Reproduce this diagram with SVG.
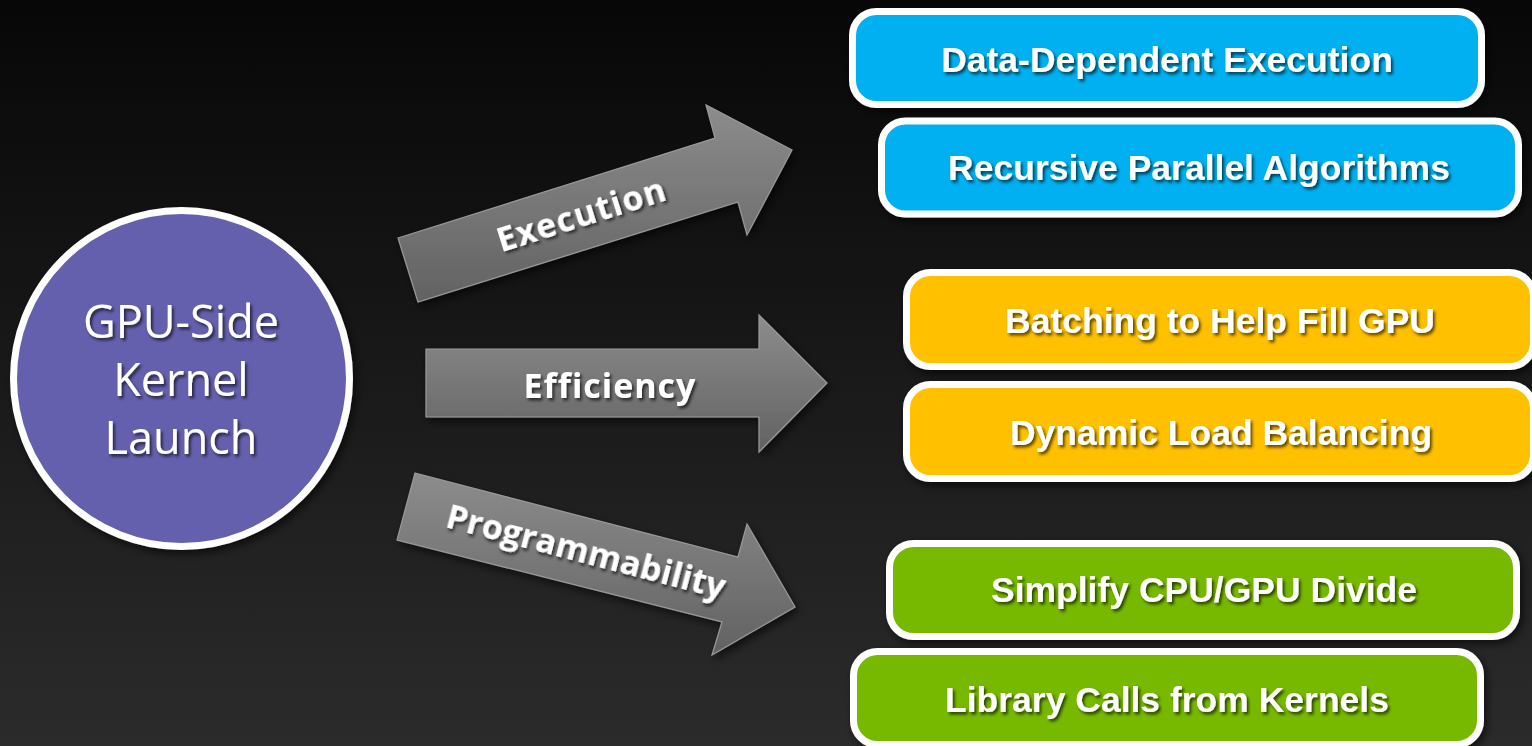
<svg xmlns="http://www.w3.org/2000/svg" width="1532" height="746" viewBox="0 0 1532 746">
  <defs>
    <linearGradient id="bg" x1="0" y1="0" x2="0" y2="1">
      <stop offset="0" stop-color="#070707"/>
      <stop offset="1" stop-color="#2b2b2b"/>
    </linearGradient>
    <linearGradient id="arrowFill" x1="0" y1="0" x2="0" y2="1">
      <stop offset="0" stop-color="#8c8c8c"/>
      <stop offset="1" stop-color="#626262"/>
    </linearGradient>
    <filter id="textShadow" x="-10%" y="-30%" width="120%" height="160%">
      <feDropShadow dx="2" dy="2.5" stdDeviation="1.4" flood-color="#000" flood-opacity="0.65"/>
    </filter>
    <filter id="shapeShadow" x="-10%" y="-20%" width="120%" height="150%">
      <feDropShadow dx="3" dy="4" stdDeviation="4" flood-color="#000" flood-opacity="0.6"/>
    </filter>
    <style>
      .box { stroke: #ffffff; stroke-width: 7; filter: url(#shapeShadow); }
      .blue { fill: #00b0f0; }
      .yellow { fill: #ffc000; }
      .green { fill: #76b900; }
      .boxText { font-family: "Liberation Sans", Arial, sans-serif; font-weight: bold; font-size: 35.5px; fill: #ffffff; text-anchor: middle; filter: url(#textShadow); }
      .arrow { fill: url(#arrowFill); stroke: #9a9a9a; stroke-width: 1.2; stroke-linejoin: miter; filter: url(#shapeShadow); }
      .arrowText { font-family: "Open Sans", "DejaVu Sans", sans-serif; font-weight: bold; font-size: 34px; fill: #ffffff; text-anchor: middle; letter-spacing: 1px; filter: url(#textShadow); }
      .hubText { font-family: "Open Sans", "DejaVu Sans", sans-serif; font-size: 45px; fill: #ffffff; text-anchor: middle; filter: url(#textShadow); }
    </style>
  </defs>

  <rect x="0" y="0" width="1532" height="746" fill="url(#bg)"/>

  <!-- central hub -->
  <g id="hub">
    <circle cx="181.5" cy="378.5" r="168" fill="#6560ae" stroke="#ffffff" stroke-width="7" filter="url(#shapeShadow)"/>
    <text class="hubText" x="181" y="338">GPU-Side</text>
    <text class="hubText" x="181" y="396">Kernel</text>
    <text class="hubText" x="181" y="454">Launch</text>
  </g>

  <!-- block arrows fanning out from the hub -->
  <g id="connectors">
    <g id="arrow-execution">
      <polygon class="arrow" points="398,238 715,138 706,105 792,150 747,235 738,202 418,302"/>
      <text class="arrowText" transform="translate(585,226) rotate(-17.5)" x="0" y="0">Execution</text>
    </g>
    <g id="arrow-efficiency">
      <polygon class="arrow" points="426,349 759,349 759,315 827,383 759,452 759,417 426,417"/>
      <text class="arrowText" x="610" y="398">Efficiency</text>
    </g>
    <g id="arrow-programmability">
      <polygon class="arrow" points="415,473 738,557 747,524 795,607 712,655 722,622 397,540"/>
      <text class="arrowText" style="letter-spacing:0px" transform="translate(583,563) rotate(14.6)" x="0" y="0">Programmability</text>
    </g>
  </g>

  <!-- execution outcomes -->
  <g id="box-data-dependent">
    <rect class="box blue" x="852.5" y="11.5" width="629" height="93" rx="24"/>
    <text class="boxText" x="1167" y="72">Data-Dependent Execution</text>
  </g>
  <g id="box-recursive">
    <rect class="box blue" x="881.5" y="121" width="637" height="93" rx="24"/>
    <text class="boxText" x="1199" y="180">Recursive Parallel Algorithms</text>
  </g>

  <!-- efficiency outcomes -->
  <g id="box-batching">
    <rect class="box yellow" x="906.5" y="272.5" width="627" height="94" rx="24"/>
    <text class="boxText" x="1220" y="333">Batching to Help Fill GPU</text>
  </g>
  <g id="box-load-balancing">
    <rect class="box yellow" x="906.5" y="384.5" width="627" height="94" rx="24"/>
    <text class="boxText" x="1221" y="445">Dynamic Load Balancing</text>
  </g>

  <!-- programmability outcomes -->
  <g id="box-simplify">
    <rect class="box green" x="889.5" y="543.5" width="627" height="93" rx="24"/>
    <text class="boxText" x="1204" y="602">Simplify CPU/GPU Divide</text>
  </g>
  <g id="box-library-calls">
    <rect class="box green" x="853.5" y="651.5" width="627" height="93" rx="24"/>
    <text class="boxText" x="1167" y="712">Library Calls from Kernels</text>
  </g>
</svg>
